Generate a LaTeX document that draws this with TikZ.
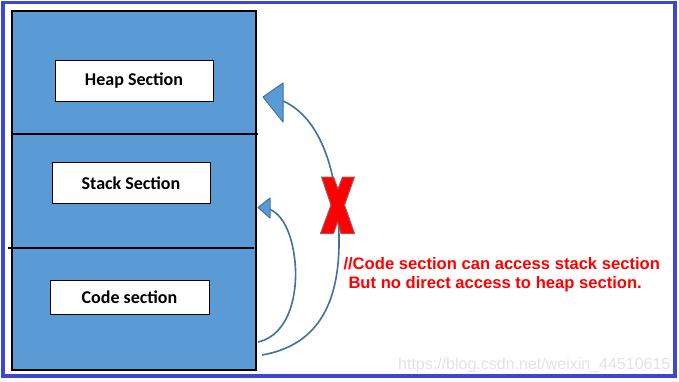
\documentclass[tikz,border=0pt]{standalone}
\usepackage{fontspec}
\setmainfont{Liberation Sans}
\newfontfamily\boxfont{Carlito}
\definecolor{frameblue}{HTML}{3F48CC}
\definecolor{secfill}{HTML}{5B9BD5}
\definecolor{curveblue}{HTML}{41719C}
\definecolor{xred}{HTML}{FF0000}
\begin{document}
\begin{tikzpicture}[x=1pt,y=-1pt,
  secbox/.style={draw=black,line width=1pt,fill=white,minimum width=#1,inner sep=0pt,font=\boxfont\bfseries\fontsize{18}{20}\selectfont},
  secline/.style={draw=black,line width=1.3pt},
  accurve/.style={draw=curveblue,line width=1.6pt},
  ahead/.style={fill=secfill,draw=curveblue,line width=1pt,line join=round},
  note/.style={text=xred,font=\bfseries\fontsize{16.6}{18}\selectfont,inner sep=0pt,anchor=base west},
]
\useasboundingbox (0,0) rectangle (679,382);
\fill[white] (0,0) rectangle (679,382);
\draw[frameblue,line width=3.5pt] (3,2.5) rectangle (675,376);
% memory block
\draw[fill=secfill,draw=black,line width=2pt] (12,11) rectangle (256,370);
\draw[secline] (12,134) -- (258,134);
\draw[secline] (8,248) -- (254,248);
% section boxes
\node[secbox=158pt,minimum height=41pt] (heap) at (134,80.6) {Heap Section};
\node[secbox=158pt,minimum height=40pt] (stack) at (131,183) {Stack Section};
\node[secbox=159pt,minimum height=34pt] (code) at (129.5,297) {Code section};
% arrows
\coordinate (bigstart) at (262,355);
\coordinate (bigmid) at (339,237);
\coordinate (bigend) at (283,101);
\coordinate (smallstart) at (258,342);
\coordinate (smallmid) at (295,262);
\coordinate (smallend) at (269,209);
\draw[accurve] (bigstart) .. controls (320,345) and (340,300) .. (bigmid)
  .. controls (338,160) and (315,115) .. (bigend);
\draw[ahead] (263,97) -- (283,83) -- (283,122) -- cycle;
\draw[accurve] (smallstart) .. controls (290,335) and (298,292) .. (smallmid)
  .. controls (292,232) and (282,214) .. (smallend);
\draw[ahead] (258,207.5) -- (270,198) -- (270,218) -- cycle;
% red X
\draw[fill=xred,draw=gray!70!red,line width=1pt,line join=round]
  (321.5,177) -- (333.5,177) -- (338,189) -- (342.5,177) -- (354.5,177)
  -- (344.5,205) -- (354.5,233.5) -- (341,233.5) -- (337.5,222) -- (333.5,233.5) -- (320.5,233.5)
  -- (331,205) -- cycle;
% notes
\node[note] (n1) at (343.3,269.3) {//Code section can access stack section};
\node[note] (n2) at (348.3,288.3) {But no direct access to heap section.};
\node[text=gray!22,font=\fontsize{16}{18}\selectfont,inner sep=0pt,anchor=base west] (wm) at (398,369) {https://blog.csdn.net/weixin\_44510615};
\end{tikzpicture}
\end{document}
